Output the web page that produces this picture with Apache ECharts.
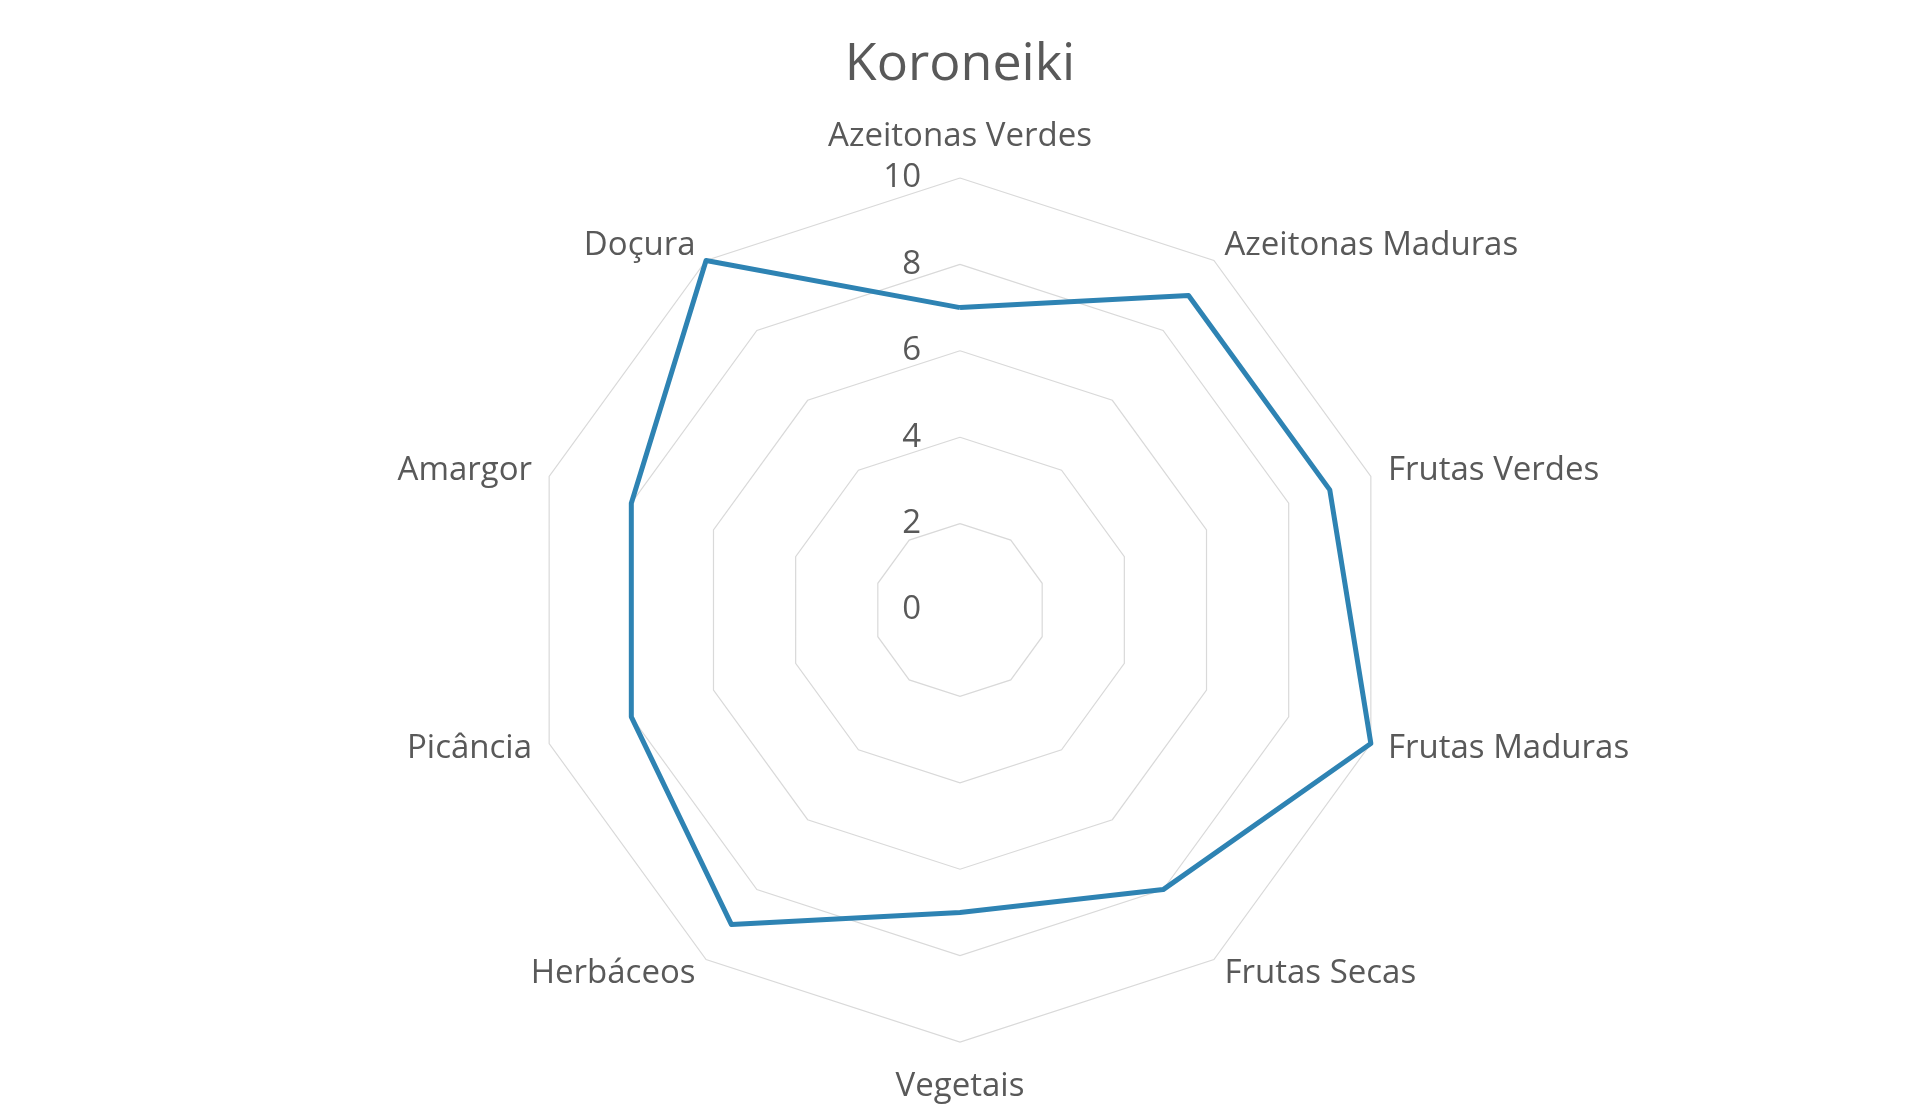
<!DOCTYPE html>
<html>
<head>
<meta charset="utf-8">
<script src="https://cdn.jsdelivr.net/npm/echarts@6/dist/echarts.min.js"></script>
<style>html,body{margin:0;padding:0;background:#fff}#c{width:1920px;height:1119px}</style>
</head>
<body>
<div id="c"></div>
<script>
var title = 'Koroneiki';
var categories = ['Azeitonas Verdes','Azeitonas Maduras','Frutas Verdes','Frutas Maduras','Frutas Secas','Vegetais','Herbáceos','Picância','Amargor','Doçura'];
var values = [7, 9, 9, 10, 8, 7, 9, 8, 8, 10];
var axisMax = 10;
var axisInterval = 2;

// ECharts radar runs counter-clockwise; reorder so categories run clockwise from top.
var order = [0].concat(categories.map(function (_, i) { return i; }).slice(1).reverse());

var chart = echarts.init(document.getElementById('c'));
var FONT = '"Open Sans", sans-serif';
var indicator = order.map(function (idx, i) {
  var o = { name: categories[idx], min: 0, max: axisMax };
  if (i === 0) o.axisLabel = { show: true };
  if (idx === 0) o.nameGap = 25;
  if (idx === 5) o.nameGap = 22;
  return o;
});
chart.setOption({
  backgroundColor: '#ffffff',
  animation: false,
  title: {
    text: title, left: 'center', top: 34,
    textStyle: { fontFamily: FONT, fontSize: 52, fontWeight: 'normal', color: '#595959' }
  },
  radar: {
    center: [960, 610],
    radius: 432,
    startAngle: 90,
    shape: 'polygon',
    splitNumber: axisMax / axisInterval,
    indicator: indicator,
    nameGap: 18,
    axisName: { color: '#595959', fontFamily: FONT, fontSize: 33, padding: [6, 0, 0, 0] },
    axisLine: { show: false },
    axisTick: { show: false },
    axisLabel: { show: false, color: '#595959', fontFamily: FONT, fontSize: 33, margin: 39, padding: [6, 0, 0, 0] },
    splitLine: { lineStyle: { color: '#d9d9d9', width: 1.2 } },
    splitArea: { show: false }
  },
  series: [{
    type: 'radar',
    symbol: 'none',
    lineStyle: { color: '#2e83b3', width: 5 },
    data: [{ value: order.map(function (idx) { return values[idx]; }), name: title }]
  }]
});
</script>
</body>
</html>
